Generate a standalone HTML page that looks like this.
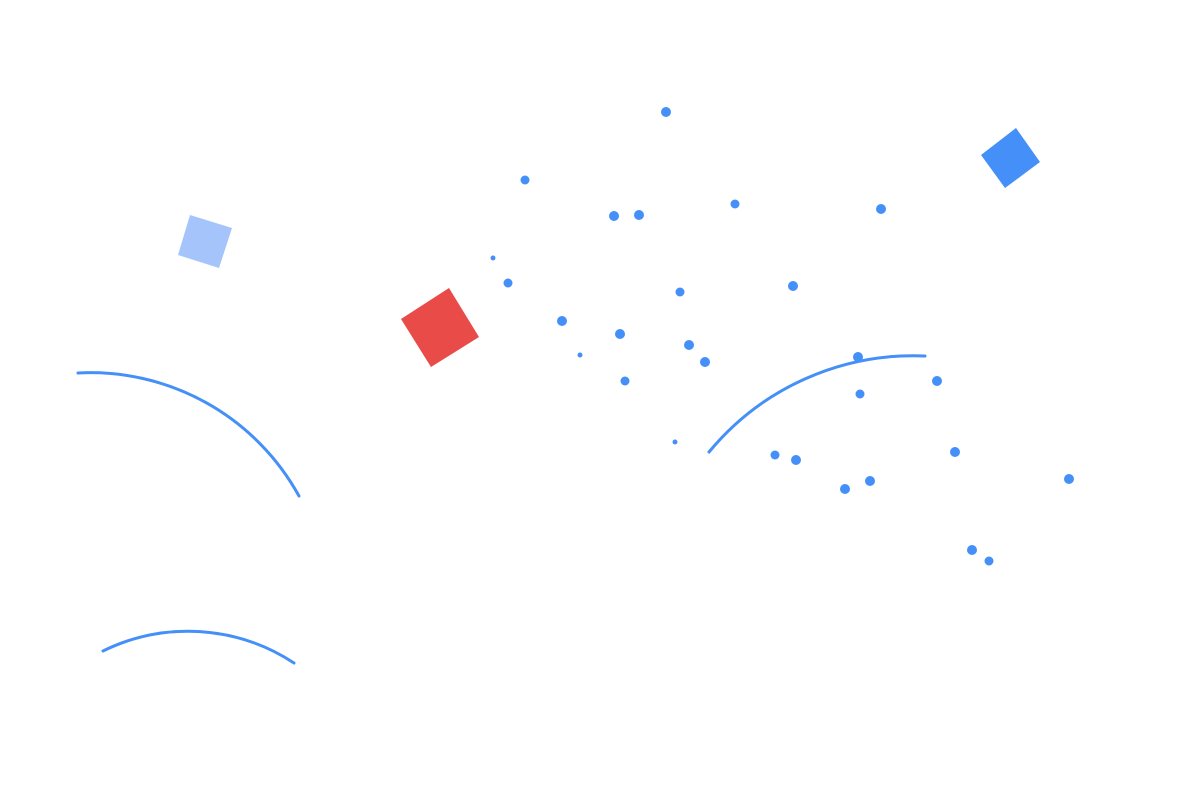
<!DOCTYPE html>
<html><head><meta charset="utf-8"><style>html,body{margin:0;padding:0;background:#fff}svg{display:block}</style></head>
<body>
<svg width="1200" height="800" viewBox="0 0 1200 800" xmlns="http://www.w3.org/2000/svg">
<rect width="1200" height="800" fill="#fff"/>
<polygon points="190,215 232,228 219,268 178,255" fill="#a4c4fb"/>
<polygon points="401,319 449,288 479,337 431,367" fill="#e94b48"/>
<polygon points="981,155 1016,128 1040,162 1005,188" fill="#4490f8"/>
<g fill="none" stroke="#4490f8" stroke-width="3" stroke-linecap="round">
<path d="M78,373 A238,238 0 0 1 299,496"/>
<path d="M103,651 A193,193 0 0 1 294,663"/>
<path d="M709,452 A265,265 0 0 1 925,356"/>
</g>
<g fill="#4490f8">
<circle cx="666" cy="112" r="5"/><circle cx="525" cy="180" r="4.5"/><circle cx="614" cy="216" r="5"/><circle cx="639" cy="215" r="5"/>
<circle cx="735" cy="204" r="4.5"/><circle cx="881" cy="209" r="5"/><circle cx="493" cy="258" r="2.5"/><circle cx="508" cy="283" r="4.5"/>
<circle cx="680" cy="292" r="4.5"/><circle cx="793" cy="286" r="5"/><circle cx="562" cy="321" r="5"/><circle cx="620" cy="334" r="5"/>
<circle cx="580" cy="355" r="2.5"/><circle cx="689" cy="345" r="5"/><circle cx="705" cy="362" r="5"/><circle cx="858" cy="357" r="5"/>
<circle cx="625" cy="381" r="4.5"/><circle cx="937" cy="381" r="5"/><circle cx="860" cy="394" r="4.5"/><circle cx="675" cy="442" r="2.5"/>
<circle cx="775" cy="455" r="4.5"/><circle cx="796" cy="460" r="5"/><circle cx="955" cy="452" r="5"/><circle cx="845" cy="489" r="5"/>
<circle cx="870" cy="481" r="5"/><circle cx="1069" cy="479" r="5"/><circle cx="972" cy="550" r="5"/><circle cx="989" cy="561" r="4.5"/>
</g>
</svg>
</body></html>
